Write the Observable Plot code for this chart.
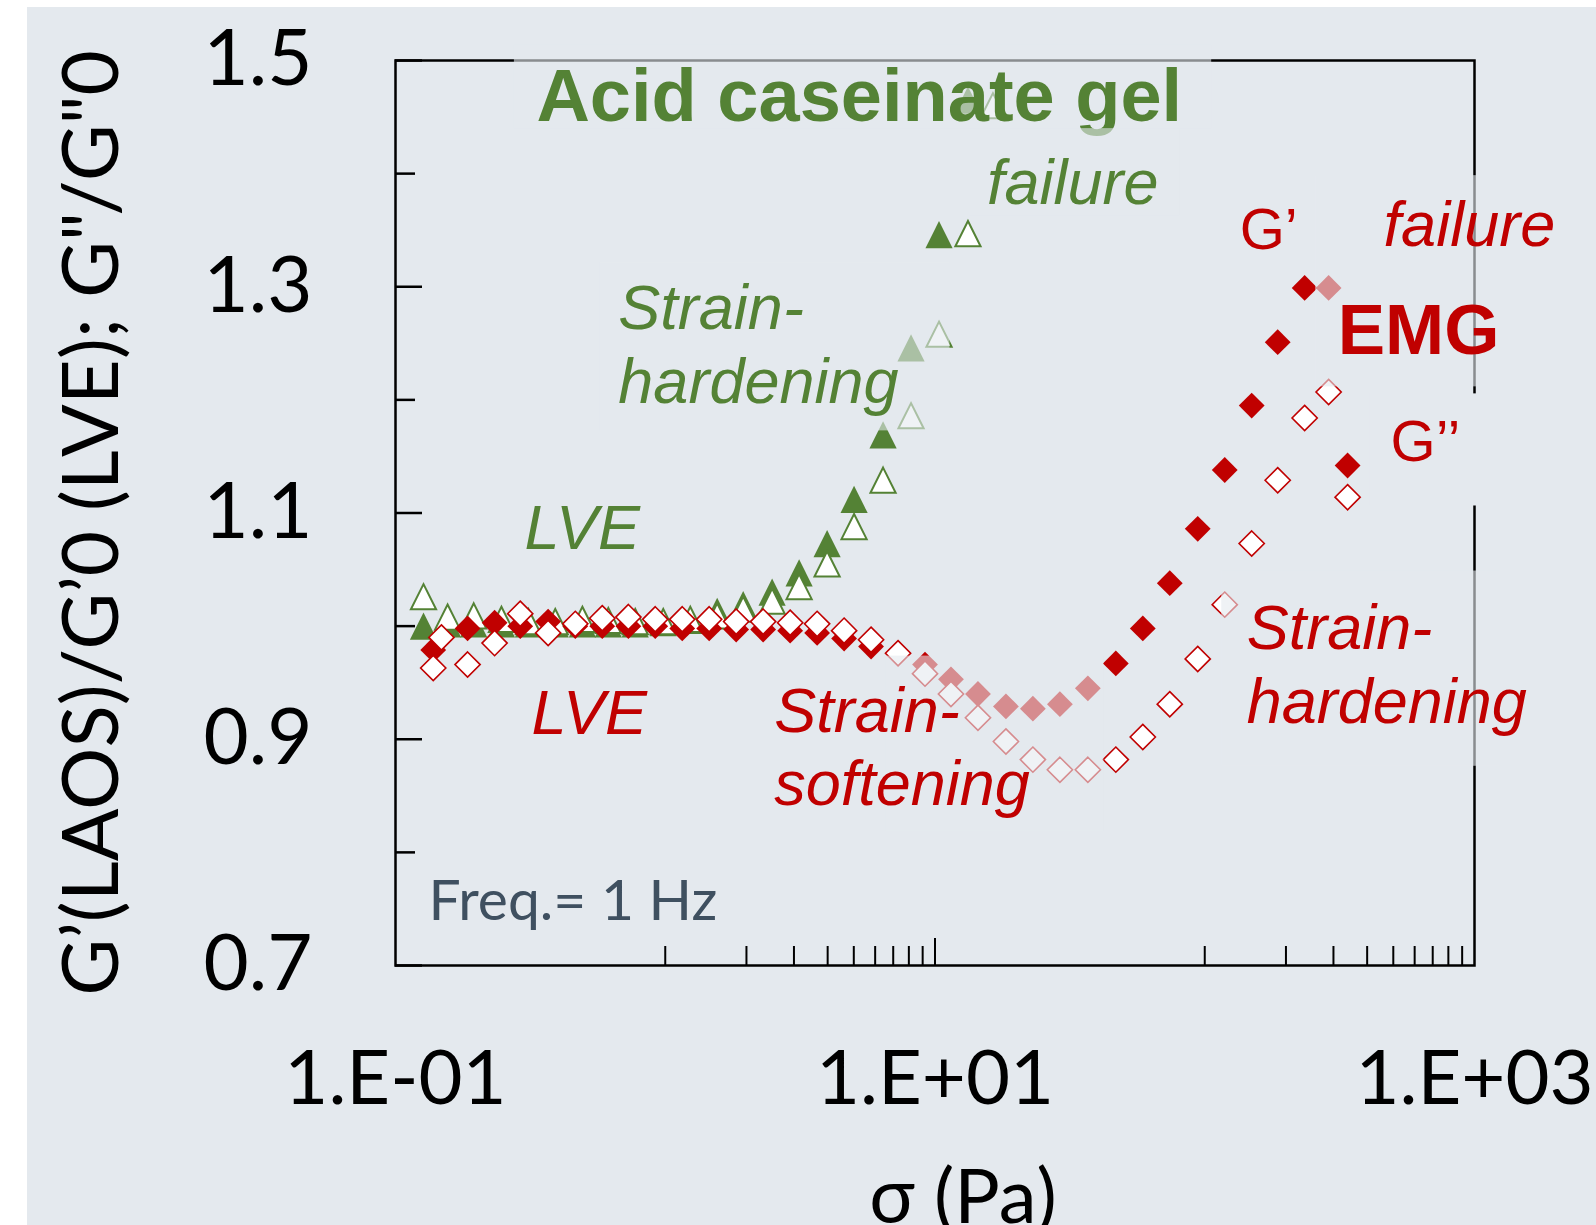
<!DOCTYPE html>
<html><head><meta charset="utf-8">
<script src="https://cdn.jsdelivr.net/npm/d3@7"></script>
<script src="https://cdn.jsdelivr.net/npm/@observablehq/plot@0.6"></script>
<style>
html,body{margin:0;padding:0;background:#fff;}
#chart{position:absolute;left:27px;top:7px;width:1569px;height:1218px;background:#e4e9ee;overflow:hidden;}
</style></head><body><div id="chart"></div>
<script>
const green = "#548235", red = "#c00000", bg = "#e4e9ee";

// ---- axes ----
const yTickValues = [0.7, 0.9, 1.1, 1.3, 1.5];
const yMinorTicks = [0.8, 1.0, 1.2, 1.4];
const xTickValues = [0.1, 10, 1000];
const xTickLabels = ["1.E-01", "1.E+01", "1.E+03"];
const xMinorShort = [1,2,3,4,5,6,7,8,9,100,200,300,400,500,600,700,800,900];
const xMinorLong = [10];
const yLabel = "G’(LAOS)/G’0 (LVE); G\"/G\"0";
const xLabel = "σ (Pa)";

// ---- Acid caseinate gel (green triangles) ----
const gelStress = [0.127,0.156,0.195,0.247,0.311,0.391,0.493,0.615,0.774,0.983,1.238,1.558,1.945,2.490,3.135,3.981,5.012,6.419,8.150,10.35,13.25,16.40];
const gelGp  = [1.000,1.002,1.002,1.002,1.002,1.002,1.002,1.002,1.002,1.003,1.005,1.013,1.019,1.030,1.047,1.073,1.112,1.169,1.246,1.346,1.465];
const gelGpp = [1.026,1.008,1.009,1.006,1.004,1.004,1.006,1.005,1.004,1.004,1.006,1.009,1.015,1.022,1.035,1.055,1.088,1.129,1.186,1.258,1.347,1.460];

// ---- EMG (red diamonds) ----
const emgStressGp = [0.138,0.185,0.233,0.290,0.368,0.464,0.584,0.730,0.918,1.156,1.455,1.832,2.306,2.904,3.656,4.603,5.794,7.295,9.183,11.46,14.43,18.32,23.06,29.04,36.87,46.81,58.93,74.19,94.19,118.6,149.3,186.4,234.6,287.9,338.5];
const emgGp = [0.979,0.998,1.003,1.000,1.004,1.000,1.000,1.000,1.000,0.998,0.998,0.997,0.997,0.996,0.994,0.989,0.982,0.976,0.966,0.953,0.940,0.929,0.927,0.931,0.945,0.967,0.998,1.038,1.086,1.138,1.195,1.251,1.299,1.299,1.142];
const emgStressGpp = [0.138,0.148,0.185,0.233,0.290,0.368,0.464,0.584,0.730,0.918,1.156,1.455,1.832,2.306,2.904,3.656,4.603,5.794,7.295,9.183,11.46,14.43,18.32,23.06,29.04,36.87,46.81,58.93,74.19,94.19,118.6,149.3,186.4,234.6,287.9,338.5];
const emgGpp = [0.963,0.990,0.966,0.985,1.011,0.994,1.002,1.007,1.008,1.006,1.006,1.006,1.004,1.004,1.003,1.002,0.996,0.988,0.976,0.958,0.940,0.919,0.898,0.882,0.873,0.873,0.882,0.902,0.931,0.971,1.019,1.073,1.129,1.184,1.207,1.114];

const rows = (xs, ys) => ys.map((y, i) => ({x: xs[i], y}));

// marker shapes (Excel-like)
const triangleSym = {draw(ctx, size){ const r = Math.sqrt(size/Math.PI); ctx.moveTo(0,-r); ctx.lineTo(r,r); ctx.lineTo(-r,r); ctx.closePath(); }};
const diamondSym = {draw(ctx, size){ const r = Math.sqrt(size/Math.PI); ctx.moveTo(0,-r); ctx.lineTo(r,0); ctx.lineTo(0,r); ctx.lineTo(-r,0); ctx.closePath(); }};

// annotation text boxes (semi-transparent fills, as in the original slide)
const box = (x1, x2, y1, y2, op) => Plot.rect([{x1, x2, y1, y2}], {x1: "x1", x2: "x2", y1: "y1", y2: "y2", fill: bg, fillOpacity: op});
const txt = (t, x, y, o) => Plot.text([{x, y, t}], {x: "x", y: "y", text: "t", textAnchor: "start", lineAnchor: "bottom", fontFamily: "Liberation Sans, Arial, sans-serif", ...o});

const W = 1569, H = 1218;
const frameW = W - 368 - 122, frameH = H - 53 - 260;

const chart = Plot.plot({
  width: W, height: H,
  marginLeft: 368, marginRight: 122, marginTop: 53, marginBottom: 260,
  x: {type: "log", domain: [0.1, 1000]},
  y: {domain: [0.7, 1.5]},
  style: {background: bg, fontFamily: "Lato, sans-serif", overflow: "visible", color: "black"},
  marks: [
    Plot.frame({stroke: "black", strokeWidth: 2.5}),
    Plot.tickY(yMinorTicks, {y: d => d, stroke: "black", strokeWidth: 2.5, insetRight: frameW - 20}),
    Plot.tickY(yTickValues, {y: d => d, stroke: "black", strokeWidth: 2.5, insetRight: frameW - 27}),
    Plot.tickX(xMinorShort, {x: d => d, stroke: "black", strokeWidth: 2, insetTop: frameH - 19}),
    Plot.tickX(xMinorLong, {x: d => d, stroke: "black", strokeWidth: 2, insetTop: frameH - 27}),
    Plot.axisY({ticks: yTickValues, tickFormat: d3.format(".1f"), tickSize: 0, tickPadding: 83, fontSize: 78, label: null}),
    Plot.axisX({ticks: xTickValues, tickFormat: d => xTickLabels[xTickValues.indexOf(d)], tickSize: 0, tickPadding: 85, fontSize: 76, label: null}),
    Plot.text([yLabel], {text: d => d, frameAnchor: "left", textAnchor: "middle", rotate: -90, lineAnchor: "bottom", dx: -278, dy: 10, fontSize: 78}),
    Plot.text([xLabel], {text: d => d, frameAnchor: "bottom", textAnchor: "middle", lineAnchor: "bottom", dx: 28, dy: 257, fontSize: 76}),

    // data
    Plot.dot(rows(gelStress, gelGp), {x: "x", y: "y", symbol: triangleSym, r: 13.6, fill: green}),
    Plot.dot(rows(gelStress, gelGpp), {x: "x", y: "y", symbol: triangleSym, r: 12.6, fill: "white", stroke: green, strokeWidth: 2}),
    Plot.dot(rows(emgStressGp, emgGp), {x: "x", y: "y", symbol: diamondSym, r: 12.9, fill: red}),
    Plot.dot(rows(emgStressGpp, emgGpp), {x: "x", y: "y", symbol: diamondSym, r: 12.6, fill: "white", stroke: red, strokeWidth: 1.6}),

    // text boxes + labels
    box(0.574, 11.36, 1.3212, 1.1726, 0.6),
    txt("Strain-\nhardening", 0.670, 1.1973, {fill: green, fontStyle: "italic", fontSize: 63, lineHeight: 1.175}),
    txt("LVE", 0.3005, 1.0681, {fill: green, fontStyle: "italic", fontSize: 63}),
    box(0.2759, 106.1, 1.5133, 1.4398, 0.6),
    txt("Acid caseinate gel", 0.333, 1.4469, {fill: green, fontWeight: "bold", fontSize: 74}),
    box(13.48, 80.8, 1.4398, 1.3628, 0.6),
    txt("failure", 15.58, 1.3735, {fill: green, fontStyle: "italic", fontSize: 63}),

    txt("LVE", 0.319, 0.9044, {fill: red, fontStyle: "italic", fontSize: 63}),
    box(6.58, 42.26, 0.9735, 0.8186, 0.6),
    txt("Strain-\nsoftening", 2.533, 0.8416, {fill: red, fontStyle: "italic", fontSize: 63, lineHeight: 1.16}),
    box(115.6, 1238, 1.0487, 0.8761, 0.6),
    txt("Strain-\nhardening", 143.0, 0.9142, {fill: red, fontStyle: "italic", fontSize: 63, lineHeight: 1.175}),
    txt("G’", 134.8, 1.3336, {fill: red, fontSize: 58}),
    box(257.7, 1238, 1.3982, 1.2115, 0.6),
    txt("failure", 460.3, 1.3363, {fill: red, fontStyle: "italic", fontSize: 63}),
    txt("EMG", 310.9, 1.2407, {fill: red, fontWeight: "bold", fontSize: 71}),
    box(408.4, 1238, 1.2053, 1.1062, 1),
    txt("G’’", 488.7, 1.146, {fill: red, fontSize: 58}),
    Plot.text(["Freq.= 1 Hz"], {text: d => d, x: d => 0.1325, y: d => 0.7398, textAnchor: "start", lineAnchor: "bottom", fill: "#3f5060", fontSize: 57, fontFamily: "Lato, sans-serif"})
  ]
});
document.getElementById("chart").appendChild(chart);
</script></body></html>
